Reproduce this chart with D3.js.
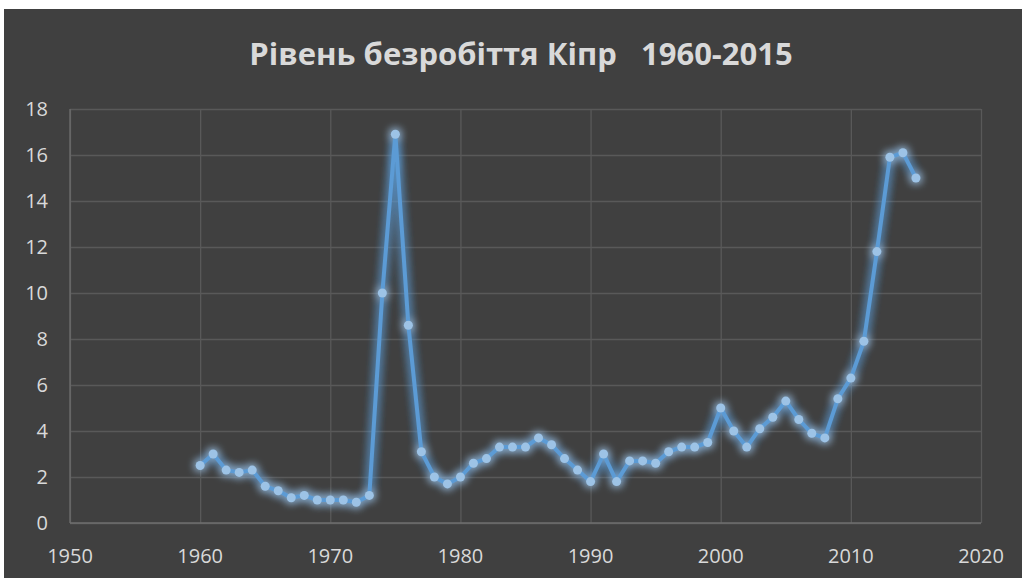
<!DOCTYPE html>
<html><head><meta charset="utf-8">
<script src="https://cdn.jsdelivr.net/npm/d3@7"></script>
<style>
html,body{margin:0;padding:0;background:#fff;}
svg{display:block;}
</style></head>
<body>
<svg id="chart" width="1022" height="578"></svg>
<script>
const years = [1960,1961,1962,1963,1964,1965,1966,1967,1968,1969,1970,1971,1972,1973,1974,1975,1976,1977,1978,1979,1980,1981,1982,1983,1984,1985,1986,1987,1988,1989,1990,1991,1992,1993,1994,1995,1996,1997,1998,1999,2000,2001,2002,2003,2004,2005,2006,2007,2008,2009,2010,2011,2012,2013,2014,2015];
const unemployment = [2.5,3.0,2.3,2.2,2.3,1.6,1.4,1.1,1.2,1.0,1.0,1.0,0.9,1.2,10.0,16.9,8.6,3.1,2.0,1.7,2.0,2.6,2.8,3.3,3.3,3.3,3.7,3.4,2.8,2.3,1.8,3.0,1.8,2.7,2.7,2.6,3.1,3.3,3.3,3.5,5.0,4.0,3.3,4.1,4.6,5.3,4.5,3.9,3.7,5.4,6.3,7.9,11.8,15.9,16.1,15.0];
const xTicks = [1950,1960,1970,1980,1990,2000,2010,2020];
const yTicks = [0,2,4,6,8,10,12,14,16,18];
const title = "Рівень безробіття Кіпр   1960-2015";

const svg = d3.select("#chart");
svg.append("rect").attr("x",4).attr("y",9).attr("width",1018).attr("height",569).attr("fill","#404040");

const pL=70, pR=981, pT=109, pB=523;
const x = d3.scaleLinear().domain([1950,2020]).range([pL,pR]);
const y = d3.scaleLinear().domain([0,18]).range([pB,pT]);

const defs = svg.append("defs");
const f = defs.append("filter").attr("id","glow").attr("x","-50%").attr("y","-50%").attr("width","200%").attr("height","200%");
f.append("feGaussianBlur").attr("in","SourceGraphic").attr("stdDeviation",5).attr("result","b");
f.append("feMerge").selectAll("feMergeNode").data(["b","b","SourceGraphic"]).join("feMergeNode").attr("in",d=>d);

// gridlines
svg.append("g").attr("transform",`translate(0,${pB})`)
  .call(d3.axisBottom(x).tickValues(xTicks).tickSize(-(pB-pT)).tickFormat(""))
  .call(g=>{g.select(".domain").remove();g.selectAll("line").attr("stroke","#595959").attr("stroke-width",1.3);});
svg.append("g").attr("transform",`translate(${pL},0)`)
  .call(d3.axisLeft(y).tickValues(yTicks).tickSize(-(pR-pL)).tickFormat(""))
  .call(g=>{g.select(".domain").remove();g.selectAll("line").attr("stroke","#595959").attr("stroke-width",1.3);});
// axis lines
svg.append("line").attr("x1",pL).attr("x2",pR).attr("y1",pB).attr("y2",pB).attr("stroke","#6e6e6e").attr("stroke-width",1.3);
svg.append("line").attr("x1",pL).attr("x2",pL).attr("y1",pT).attr("y2",pB).attr("stroke","#6e6e6e").attr("stroke-width",1.3);

// labels
const font = "'Open Sans', 'Liberation Sans', sans-serif";
svg.append("g").selectAll("text").data(yTicks).join("text")
  .attr("x",48).attr("y",d=>y(d)).attr("dy","0.35em").attr("text-anchor","end")
  .attr("fill","#d9d9d9").attr("font-family",font).attr("font-size",20).text(d=>d);
svg.append("g").selectAll("text").data(xTicks).join("text")
  .attr("x",d=>x(d)).attr("y",563).attr("text-anchor","middle")
  .attr("fill","#d9d9d9").attr("font-family",font).attr("font-size",20).text(d=>d);

svg.append("text").attr("x",521).attr("y",65).attr("text-anchor","middle")
  .attr("fill","#d9d9d9").attr("font-family",font).attr("font-weight","bold").attr("font-size",31)
  .attr("xml:space","preserve").style("white-space","pre").text(title);

const data = years.map((yr,i)=>({yr,v:unemployment[i]}));
const line = d3.line().x(d=>x(d.yr)).y(d=>y(d.v));
const g = svg.append("g").attr("filter","url(#glow)");
g.append("path").datum(data).attr("d",line).attr("fill","none").attr("stroke","#5b9bd5").attr("stroke-width",4).attr("stroke-linejoin","round");
g.selectAll("circle").data(data).join("circle")
  .attr("cx",d=>x(d.yr)).attr("cy",d=>y(d.v)).attr("r",4.5).attr("fill","#9dc3e6");
</script>
</body></html>
